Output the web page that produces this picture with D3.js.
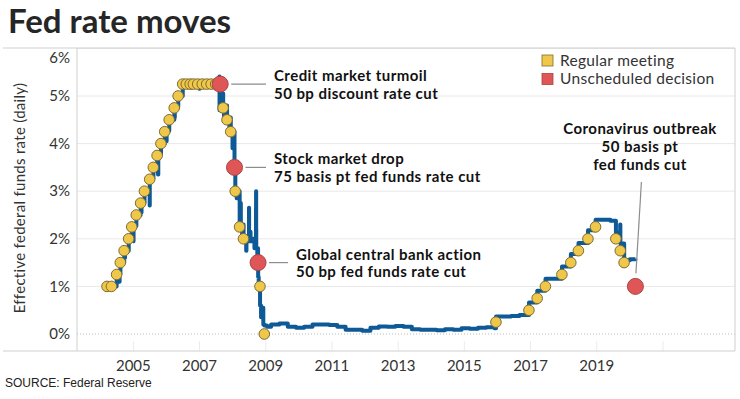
<!DOCTYPE html>
<html>
<head>
<meta charset="utf-8">
<script src="https://cdn.jsdelivr.net/npm/d3@7"></script>
<style>
  body { margin: 0; background: #fff; }
  svg { display: block; }
  text { font-family: Lato, "Open Sans", sans-serif; }
</style>
</head>
<body>
<div id="chart"></div>
<script>
// effective fed funds rate (daily): [date, value %]
const effr = [
  ['2004-03-10', 1.00], ['2004-06-30', 1.03], ['2004-07-01', 1.27], ['2004-07-30', 1.10], ['2004-08-02', 1.26],
  ['2004-08-11', 1.50], ['2004-09-22', 1.76], ['2004-09-30', 1.60], ['2004-10-01', 1.75],
  ['2004-11-11', 2.00], ['2004-12-15', 2.25], ['2004-12-31', 1.95], ['2005-01-03', 2.27],
  ['2005-02-03', 2.50], ['2005-03-23', 2.75], ['2005-03-31', 2.55], ['2005-04-01', 2.76],
  ['2005-05-04', 3.00], ['2005-06-30', 2.70], ['2005-07-01', 3.26], ['2005-08-10', 3.50],
  ['2005-09-21', 3.76], ['2005-09-30', 3.35], ['2005-10-03', 3.77], ['2005-11-02', 4.00],
  ['2005-12-14', 4.25], ['2005-12-30', 4.05], ['2006-01-03', 4.27], ['2006-02-01', 4.50],
  ['2006-03-29', 4.76], ['2006-03-31', 4.55], ['2006-04-03', 4.77], ['2006-05-11', 5.00],
  ['2006-06-30', 5.26], ['2006-09-29', 5.18], ['2006-10-02', 5.26], ['2006-12-29', 5.15],
  ['2007-01-02', 5.28], ['2007-03-30', 5.20], ['2007-04-02', 5.27], ['2007-06-29', 5.15],
  ['2007-07-02', 5.30], ['2007-08-09', 5.41], ['2007-08-10', 4.70], ['2007-08-13', 5.10],
  ['2007-08-20', 4.90], ['2007-08-22', 5.10], ['2007-08-31', 4.70], ['2007-09-04', 5.05],
  ['2007-09-19', 4.78], ['2007-09-28', 4.55], ['2007-10-01', 4.80], ['2007-11-01', 4.55],
  ['2007-11-27', 4.35], ['2007-11-29', 4.55], ['2007-12-12', 4.28], ['2007-12-31', 3.90],
  ['2008-01-02', 4.25], ['2008-01-10', 4.10], ['2008-01-14', 4.25], ['2008-01-22', 3.50],
  ['2008-01-31', 3.05], ['2008-02-15', 2.85], ['2008-02-19', 3.00], ['2008-02-29', 2.90],
  ['2008-03-03', 3.00], ['2008-03-19', 2.30], ['2008-03-31', 2.75], ['2008-04-01', 2.20],
  ['2008-04-15', 2.10], ['2008-04-17', 2.30], ['2008-05-01', 2.00], ['2008-05-30', 1.75],
  ['2008-06-02', 2.05], ['2008-06-30', 2.65], ['2008-07-01', 1.95], ['2008-07-15', 2.15],
  ['2008-07-17', 1.95], ['2008-08-01', 2.00], ['2008-08-29', 1.80], ['2008-09-02', 2.00],
  ['2008-09-15', 2.64], ['2008-09-16', 3.00], ['2008-09-17', 2.20], ['2008-09-18', 1.80],
  ['2008-09-30', 1.50], ['2008-10-01', 1.80], ['2008-10-08', 1.50], ['2008-10-09', 1.20],
  ['2008-10-15', 0.95], ['2008-10-29', 1.00], ['2008-10-30', 0.60], ['2008-11-10', 0.35],
  ['2008-11-25', 0.55], ['2008-12-05', 0.20], ['2008-12-16', 0.18],
  ['2009-01-15', 0.15], ['2009-03-01', 0.20], ['2009-06-01', 0.22], ['2009-09-01', 0.15],
  ['2009-12-01', 0.13], ['2010-03-01', 0.15], ['2010-06-01', 0.20], ['2010-09-01', 0.20],
  ['2010-12-01', 0.19], ['2011-03-01', 0.15], ['2011-06-01', 0.09], ['2011-09-01', 0.09],
  ['2011-12-01', 0.07], ['2012-03-01', 0.13], ['2012-06-01', 0.16], ['2012-09-01', 0.15],
  ['2012-12-01', 0.17], ['2013-03-01', 0.15], ['2013-06-01', 0.10], ['2013-09-01', 0.09],
  ['2013-12-01', 0.09], ['2014-03-01', 0.08], ['2014-06-01', 0.10], ['2014-09-01', 0.09],
  ['2014-12-01', 0.12], ['2015-03-01', 0.11], ['2015-06-01', 0.13], ['2015-09-01', 0.14],
  ['2015-12-01', 0.12], ['2015-12-17', 0.37], ['2016-03-01', 0.37], ['2016-06-01', 0.38],
  ['2016-09-01', 0.40], ['2016-12-15', 0.66], ['2017-03-16', 0.91], ['2017-06-15', 1.16],
  ['2017-12-14', 1.42], ['2018-03-22', 1.68], ['2018-06-14', 1.91], ['2018-09-27', 2.18],
  ['2018-12-20', 2.40], ['2019-03-01', 2.40], ['2019-06-01', 2.38], ['2019-08-01', 2.13],
  ['2019-09-17', 2.30], ['2019-09-19', 1.90], ['2019-10-31', 1.55], ['2020-01-02', 1.57],
  ['2020-03-04', 1.58]
];

// regular FOMC meetings
const meetingDates = [
  '2004-03-16', '2004-05-04', '2004-06-30', '2004-08-10', '2004-09-21', '2004-11-10', '2004-12-14',
  '2005-02-02', '2005-03-22', '2005-05-03', '2005-06-30', '2005-08-09', '2005-09-20', '2005-11-01',
  '2005-12-13', '2006-01-31', '2006-03-28', '2006-05-10', '2006-06-29', '2006-08-08', '2006-09-20',
  '2006-10-25', '2006-12-12', '2007-01-31', '2007-03-21', '2007-05-09', '2007-06-28', '2007-08-07',
  '2007-09-18', '2007-10-31', '2007-12-11', '2008-01-30', '2008-03-18', '2008-04-30', '2008-10-29',
  '2008-12-16', '2015-12-16', '2016-12-14', '2017-03-15', '2017-06-14', '2017-12-13', '2018-03-21',
  '2018-06-13', '2018-09-26', '2018-12-19', '2019-07-31', '2019-09-18', '2019-10-30'
];
const meetingRates = [
  1.00, 1.00, 1.25, 1.50, 1.75, 2.00, 2.25,
  2.50, 2.75, 3.00, 3.25, 3.50, 3.75, 4.00,
  4.25, 4.50, 4.75, 5.00, 5.25, 5.25, 5.25,
  5.25, 5.25, 5.25, 5.25, 5.25, 5.25, 5.25,
  4.75, 4.50, 4.25, 3.00, 2.25, 2.00, 1.00,
  0.00, 0.25, 0.50, 0.75, 1.00, 1.25, 1.50,
  1.75, 2.00, 2.25, 2.00, 1.75, 1.50
];

// unscheduled decisions
const unschedDates = ['2007-08-17', '2008-01-22', '2008-10-08', '2020-03-03'];
const unschedRates = [5.25, 3.50, 1.50, 1.00];
const unschedNotes = [
  ['Credit market turmoil', '50 bp discount rate cut'],
  ['Stock market drop', '75 basis pt fed funds rate cut'],
  ['Global central bank action', '50 bp fed funds rate cut'],
  ['Coronavirus outbreak', '50 basis pt', 'fed funds cut']
];

const yTicks = [0, 1, 2, 3, 4, 5, 6];
const xTickYears = [2005, 2007, 2009, 2011, 2013, 2015, 2017, 2019];
const legendItems = ['Regular meeting', 'Unscheduled decision'];

const W = 740, H = 399;
const frame = {left: 77, right: 735, top: 48, bottom: 351};
const YELLOW = '#efc84a', YELLOW_S = '#7f6b33';
const RED = '#e05656', RED_S = '#a84444';
const BLUE = '#0e5a97';

const parse = d3.timeParse('%Y-%m-%d');

const svg = d3.select('#chart').append('svg')
  .attr('width', W)
  .attr('height', H);

const x = d3.scaleTime()
  .domain([new Date(2003, 3, 20), new Date(2023, 2, 7)])
  .range([frame.left, frame.right]);

const y = d3.scaleLinear()
  .domain([0, 6])
  .range([334, 48.4]);

// title
svg.append('text')
  .attr('x', 8).attr('y', 33)
  .style('font-size', '33px').style('font-weight', 700)
  .attr('fill', '#262626')
  .text('Fed rate moves');

// gridlines
svg.append('g').selectAll('line')
  .data(yTicks.filter(d => d > 0))
  .join('line')
  .attr('x1', frame.left).attr('x2', frame.right)
  .attr('y1', d => y(d)).attr('y2', d => y(d))
  .attr('stroke', '#e8e8e8').attr('stroke-width', 1);

svg.append('line')
  .attr('x1', frame.left).attr('x2', frame.right)
  .attr('y1', y(0)).attr('y2', y(0))
  .attr('stroke', '#bbb').attr('stroke-width', 1)
  .attr('stroke-dasharray', '1,2');

// faint year ticks at the bottom
svg.append('g').selectAll('line')
  .data(xTickYears.concat([2021]))
  .join('line')
  .attr('x1', d => x(new Date(d, 0, 1))).attr('x2', d => x(new Date(d, 0, 1)))
  .attr('y1', frame.bottom - 10).attr('y2', frame.bottom)
  .attr('stroke', '#ececec');

// frame
const fr = svg.append('g').attr('stroke', '#cfcfcf').attr('stroke-width', 1);
fr.append('line').attr('x1', 3).attr('x2', frame.right).attr('y1', frame.top).attr('y2', frame.top);
fr.append('line').attr('x1', 3).attr('x2', frame.right).attr('y1', frame.bottom).attr('y2', frame.bottom);
fr.append('line').attr('x1', frame.left).attr('x2', frame.left).attr('y1', frame.top).attr('y2', frame.bottom);
fr.append('line').attr('x1', frame.right).attr('x2', frame.right).attr('y1', frame.top).attr('y2', frame.bottom);

// y labels
svg.append('g').selectAll('text')
  .data(yTicks)
  .join('text')
  .attr('x', 70)
  .attr('y', d => d === 6 ? y(d) + 9 : y(d))
  .attr('dy', '0.35em')
  .attr('text-anchor', 'end')
  .style('font-size', '15px')
  .attr('fill', '#333')
  .text(d => d + '%');

// x labels
svg.append('g').selectAll('text')
  .data(xTickYears)
  .join('text')
  .attr('x', d => x(new Date(d, 0, 1)))
  .attr('y', 371)
  .attr('text-anchor', 'middle')
  .style('font-size', '15px')
  .attr('fill', '#333')
  .text(d => d);

// y title
svg.append('text')
  .attr('transform', 'translate(25,198) rotate(-90)')
  .attr('text-anchor', 'middle')
  .style('font-size', '15px')
  .style('letter-spacing', '0.3px')
  .attr('fill', '#333')
  .text('Effective federal funds rate (daily)');

// source
svg.append('text')
  .attr('x', 5).attr('y', 387)
  .style('font-family', '"Liberation Sans Narrow", "Arial Narrow", sans-serif')
  .style('font-size', '12px')
  .attr('fill', '#222')
  .text('SOURCE: Federal Reserve');

// rate line
const line = d3.line()
  .curve(d3.curveStepAfter)
  .x(d => x(parse(d[0])))
  .y(d => y(d[1]));

svg.append('path')
  .datum(effr)
  .attr('fill', 'none')
  .attr('stroke', BLUE)
  .attr('stroke-width', 4)
  .attr('stroke-linejoin', 'round')
  .attr('d', line);

// regular meeting dots
svg.append('g').selectAll('circle')
  .data(meetingDates.map((d, i) => [d, meetingRates[i]]))
  .join('circle')
  .attr('cx', d => x(parse(d[0])))
  .attr('cy', d => y(d[1]))
  .attr('r', 5.3)
  .attr('fill', YELLOW)
  .attr('stroke', YELLOW_S)
  .attr('stroke-width', 1);

// annotations for unscheduled decisions
const noteStyle = sel => sel
  .style('font-size', '15px').style('font-weight', 700)
  .style('letter-spacing', '0.45px')
  .attr('fill', '#111');

const notes = svg.append('g');
unschedDates.forEach((d, i) => {
  const cx = x(parse(d)), cy = y(unschedRates[i]);
  const lines = unschedNotes[i];
  if (i < 3) {
    const tx = i === 2 ? 296 : 274;
    notes.append('line')
      .attr('x1', cx + 11).attr('x2', tx - 8)
      .attr('y1', cy).attr('y2', cy)
      .attr('stroke', '#8c8c8c').attr('stroke-width', 1.2);
    lines.forEach((t, j) => {
      notes.append('text')
        .attr('x', tx).attr('y', cy - 3 + j * 17.5)
        .call(noteStyle)
        .text(t);
    });
  } else {
    notes.append('line')
      .attr('x1', cx + 6).attr('x2', cx + 0.5)
      .attr('y1', 182).attr('y2', cy - 13)
      .attr('stroke', '#8c8c8c').attr('stroke-width', 1.2);
    lines.forEach((t, j) => {
      notes.append('text')
        .attr('x', 640).attr('y', 134 + j * 18)
        .attr('text-anchor', 'middle')
        .call(noteStyle)
        .text(t);
    });
  }
});

// unscheduled dots
svg.append('g').selectAll('circle')
  .data(unschedDates.map((d, i) => [d, unschedRates[i]]))
  .join('circle')
  .attr('cx', d => x(parse(d[0])))
  .attr('cy', d => y(d[1]))
  .attr('r', 8)
  .attr('fill', RED)
  .attr('stroke', RED_S)
  .attr('stroke-width', 1);

// legend
const lg = svg.append('g').attr('transform', 'translate(542,55)');
legendItems.forEach((t, i) => {
  lg.append('rect')
    .attr('x', 0).attr('y', i * 18.5)
    .attr('width', 11).attr('height', 11)
    .attr('fill', i === 0 ? YELLOW : RED)
    .attr('stroke', i === 0 ? YELLOW_S : RED_S)
    .attr('stroke-width', 0.8);
  lg.append('text')
    .attr('x', 18).attr('y', i * 18.5 + 5.5)
    .attr('dy', '0.35em')
    .style('font-size', '15.5px')
    .style('letter-spacing', '0.3px')
    .attr('fill', '#333')
    .text(t);
});
</script>
</body>
</html>
